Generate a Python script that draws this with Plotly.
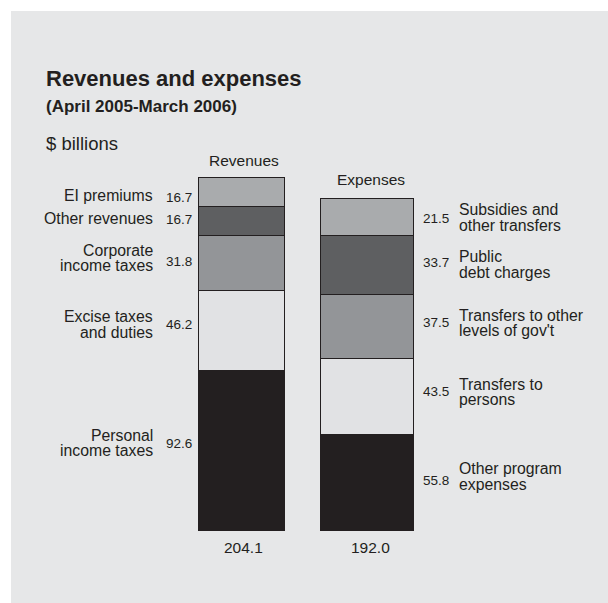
import plotly.graph_objects as go

# ---- data (bottom segment first) ----
rev_labels = ["Personal<br>income taxes", "Excise taxes<br>and duties", "Corporate<br>income taxes",
              "Other revenues", "EI premiums"]
rev_values = [92.6, 46.2, 31.8, 16.7, 16.7]
exp_labels = ["Other program<br>expenses", "Transfers to<br>persons", "Transfers to other<br>levels of gov't",
              "Public<br>debt charges", "Subsidies and<br>other transfers"]
exp_values = [55.8, 43.5, 37.5, 33.7, 21.5]
columns = ["Revenues", "Expenses"]
totals = ["204.1", "192.0"]

# ---- styling ----
W, H = 608, 603
seg_colors = ["#231f20", "#e1e2e4", "#939598", "#5e5f61", "#a9abad"]
txt = "#231f20"
FONT = "Liberation Sans, Arial, Helvetica, sans-serif"
bar_x = [241, 366.5]
bar_w = [86, 93]
y_range = [-41.79, 306.76]
# label offsets (px, positive = downward) relative to segment centres
rev_lab_off = [-7.4, -6.0, -5.3, -2.2, 3.5]
rev_val_off = [-7.3, -6.2, -1.1, -1.9, 5.1]
exp_lab_off = [-5.7, -4.7, -3.6, -0.3, 0.4]
exp_val_off = [-2.4, -4.8, -3.9, -2.5, 1.2]
LINE = 15.5
LAB = 15.8
VAL = 13.5

fig = go.Figure()
for i in range(5):
    fig.add_trace(go.Bar(x=[bar_x[0]], y=[rev_values[i]], width=[bar_w[0]],
                         marker=dict(color=seg_colors[i], line=dict(color="#231f20", width=1)),
                         hoverinfo="skip", showlegend=False))
for i in range(5):
    fig.add_trace(go.Bar(x=[bar_x[1]], y=[exp_values[i]], width=[bar_w[1]],
                         marker=dict(color=seg_colors[i], line=dict(color="#231f20", width=1)),
                         hoverinfo="skip", showlegend=False))

ann = []


def py(p):
    return 1 - p / H


def add_lines(text, x, ycenter, xanchor, size, yshift0):
    lines = text.split("<br>")
    n = len(lines)
    for k, ln in enumerate(lines):
        sh = yshift0 - (k - (n - 1) / 2) * LINE
        ann.append(dict(x=x, y=ycenter, xref="x", yref="y", text=ln, showarrow=False,
                        xanchor=xanchor, yanchor="middle", yshift=sh, borderpad=0,
                        font=dict(family=FONT, size=size, color=txt)))


def centres(vals):
    out, c = [], 0
    for v in vals:
        out.append(c + v / 2)
        c += v
    return out


for i, c in enumerate(centres(rev_values)):
    add_lines(rev_labels[i], 154, c, "right", LAB, -rev_lab_off[i])
    add_lines(f"{rev_values[i]:.1f}", 193, c, "right", VAL, -rev_val_off[i])
for i, c in enumerate(centres(exp_values)):
    add_lines(exp_labels[i], 458, c, "left", LAB, -exp_lab_off[i])
    add_lines(f"{exp_values[i]:.1f}", 422, c, "left", VAL, -exp_val_off[i])

# headings and totals
head_y = [160.7, 179.3]
head_x = [243.5, 370.8]
for j in range(2):
    ann.append(dict(x=head_x[j], y=py(head_y[j]), xref="x", yref="paper", text=columns[j],
                    showarrow=False, xanchor="center", yanchor="middle",
                    font=dict(family=FONT, size=15.5, color=txt)))
    ann.append(dict(x=head_x[j], y=py(547.7), xref="x", yref="paper", text=totals[j],
                    showarrow=False, xanchor="center", yanchor="middle",
                    font=dict(family=FONT, size=15.5, color=txt)))

ann.append(dict(x=44, y=py(79), xref="x", yref="paper", text="<b>Revenues and expenses</b>",
                showarrow=False, xanchor="left", yanchor="middle",
                font=dict(family=FONT, size=22, color=txt)))
ann.append(dict(x=44, y=py(106.5), xref="x", yref="paper", text="<b>(April 2005-March 2006)</b>",
                showarrow=False, xanchor="left", yanchor="middle",
                font=dict(family=FONT, size=17, color=txt)))
ann.append(dict(x=44, y=py(143.5), xref="x", yref="paper", text="$ billions",
                showarrow=False, xanchor="left", yanchor="middle",
                font=dict(family=FONT, size=18.5, color=txt)))

fig.update_layout(
    width=W, height=H, margin=dict(l=0, r=0, t=0, b=0),
    paper_bgcolor="white", plot_bgcolor="rgba(0,0,0,0)",
    barmode="stack", bargap=0,
    xaxis=dict(range=[0, W], visible=False, fixedrange=True),
    yaxis=dict(range=y_range, visible=False, fixedrange=True),
    annotations=ann,
    shapes=[dict(type="rect", xref="x", yref="paper", x0=11, x1=W, y0=0, y1=py(11),
                 fillcolor="#e6e7e8", line=dict(width=0), layer="below")],
)
fig.write_html("out.html", config={"displayModeBar": False, "staticPlot": True})

# remove the browser's default page margin so the figure sits at the window's corner
with open("out.html", encoding="utf-8") as f:
    html = f.read()
html = html.replace("<head>", "<head><style>html,body{margin:0;padding:0;overflow:hidden;}</style>", 1)
with open("out.html", "w", encoding="utf-8") as f:
    f.write(html)
